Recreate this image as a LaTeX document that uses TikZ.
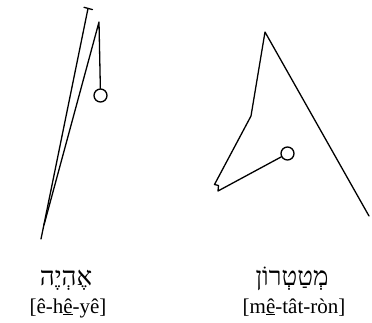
\documentclass[tikz,border=0pt]{standalone}
\usepackage{fontspec}
\setmainfont{Liberation Serif}
\newfontfamily\hebfont[Script=Hebrew]{Liberation Serif}
\TeXXeTstate=1
\begin{document}
\begin{tikzpicture}[x=1pt,y=-1pt,
  stroke/.style={line width=1.3pt, line join=round, line cap=round},
  ring/.style={circle, draw, line width=1.3pt, inner sep=0pt, minimum size=13pt},
  heb/.style={font=\fontsize{26}{28}\selectfont\hebfont, inner sep=0pt, anchor=base},
  translit/.style={font=\fontsize{21}{23}\selectfont, inner sep=0pt, anchor=base}]
\useasboundingbox (0,0) rectangle (372,322);
% left figure
\coordinate (t1) at (88,8.5);
\coordinate (b1) at (41,239);
\coordinate (bl) at (84,7.3);
\coordinate (br) at (92.5,9.6);
\coordinate (t2) at (99,22);
\coordinate (m2) at (44,225);
\node[ring] (c1) at (100.5,95.5) {};
\draw[stroke] (t1) -- (b1);
\draw[stroke] (bl) -- (br);
\draw[stroke] (m2) -- (t2) -- (c1);
% right figure
\coordinate (apex) at (265,32);
\coordinate (k) at (251,116);
\coordinate (n1) at (214.5,184.5);
\coordinate (n2) at (218.5,185.5);
\coordinate (n3) at (218,191);
\coordinate (e) at (369,216);
\node[ring] (c2) at (287.5,153.5) {};
\draw[stroke] (c2) -- (n3) -- (n2) -- (n1) -- (k) -- (apex) -- (e);
% labels
\node[heb] (h1) at (66,285) {\beginR אֶהְיֶה\endR};
\node[translit] (l1) at (68,313) {[ê-h\underline{ê}-yê]};
\node[heb] (h2) at (292,285) {\beginR מְטַטְרוֹן\endR};
\node[translit] (l2) at (294,313) {[m\underline{ê}-tât-ròn]};
\end{tikzpicture}
\end{document}
